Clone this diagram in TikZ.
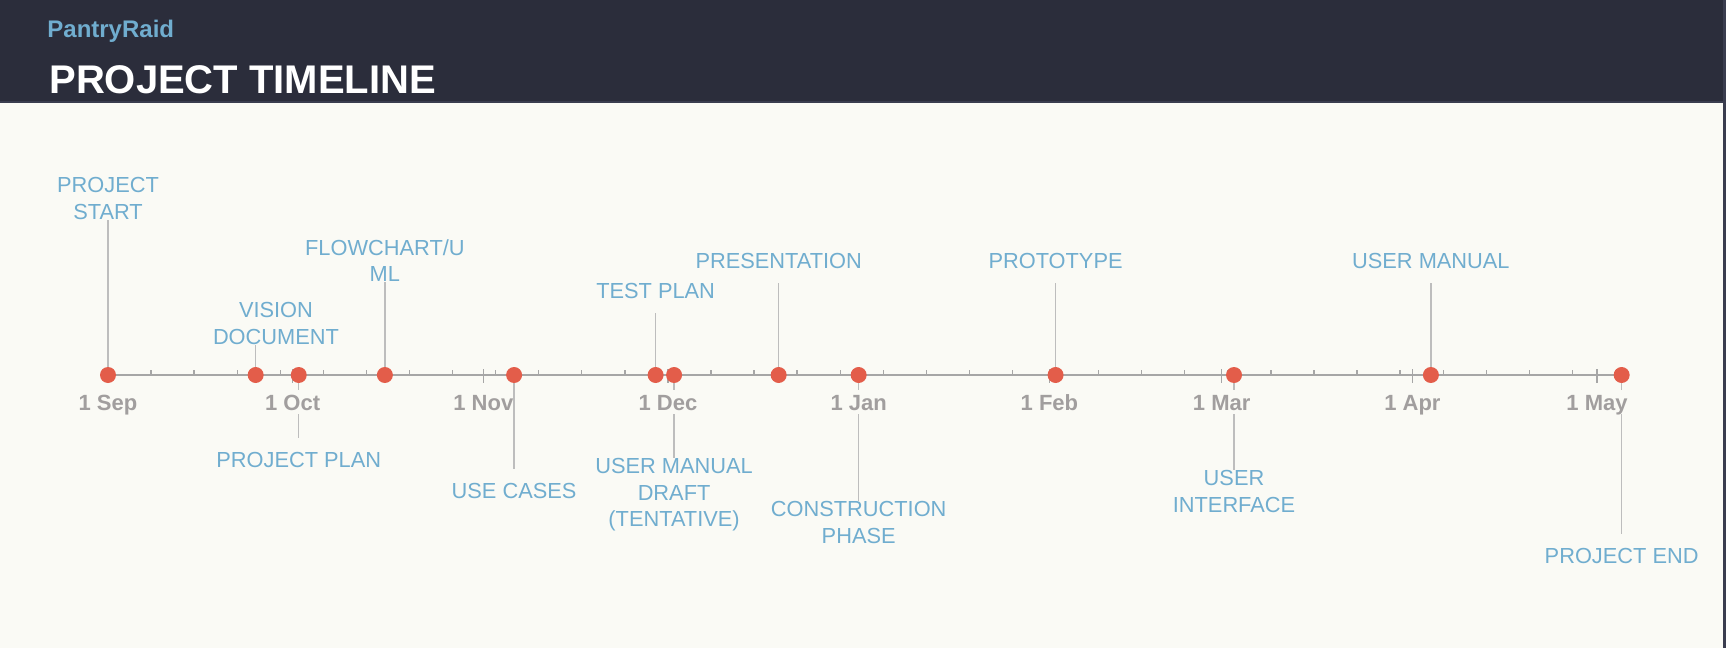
\documentclass[tikz,border=0pt]{standalone}
\usepackage{fontspec}
\setmainfont{Liberation Sans}
\usetikzlibrary{positioning}
\definecolor{headerbg}{HTML}{2B2D3B}
\definecolor{headerrule}{HTML}{3A3D4F}
\definecolor{pagebg}{HTML}{FAFAF5}
\definecolor{accent}{HTML}{70ADCF}
\definecolor{dotred}{HTML}{E35D4A}
\definecolor{axisgray}{HTML}{A6A6A6}
\definecolor{stemgray}{HTML}{BDBDBD}
\definecolor{dategray}{HTML}{A19E9E}

\begin{document}
\begin{tikzpicture}[
  x=0.5pt,
  y=-0.5pt,
  brand/.style={
    anchor=base west,
    inner sep=0pt,
    text=accent,
    font=\fontsize{12pt}{14pt}\selectfont\bfseries
  },
  heading/.style={
    anchor=base west,
    inner sep=0pt,
    text=white,
    font=\fontsize{20pt}{24pt}\selectfont\bfseries
  },
  milestone/.style={
    circle,
    fill=dotred,
    inner sep=0pt,
    minimum size=8pt
  },
  tag/.style={
    align=center,
    inner sep=0pt,
    text=accent,
    font=\fontsize{10.9pt}{13.3pt}\selectfont
  },
  tag1/.style={tag, inner ysep=7pt},
  date/.style={
    anchor=base,
    fill=pagebg,
    inner xsep=0pt,
    inner ysep=2pt,
    text height=8pt,
    text depth=0pt,
    text=dategray,
    font=\fontsize{11pt}{13pt}\selectfont\bfseries
  },
  axis/.style={draw=axisgray, line width=1pt},
  tick/.style={draw=axisgray, line width=0.7pt},
  stem/.style={draw=stemgray, line width=0.75pt}
]

% Page and header band
\useasboundingbox (0,0) rectangle (1726,648);
\fill[pagebg] (0,0) rectangle (1726,648);
\fill[headerbg] (0,0) rectangle (1726,101);
\fill[headerrule] (0,101) rectangle (1726,103);
\fill[headerrule] (1723,0) rectangle (1726,648);
\node[brand] (brand) at (47,38) {PantryRaid};
\node[heading] (title) at (49,93) {PROJECT TIMELINE};

% Time axis, one x unit per day from 1 Sep
\begin{scope}[shift={(108,375)}, x=3.0765pt]
\draw[axis] (0,0) -- (246,0);
\foreach \d in {7,14,...,245} \draw[tick] (\d,0) -- (\d,-5);
\foreach \d in {0,30,61,91,122,153,181,212,242} \draw[tick] (\d,-6) -- (\d,8);

% Milestones
\node[milestone] (start) at (0,0) {};
\node[milestone] (vision) at (24,0) {};
\node[milestone] (plan) at (31,0) {};
\node[milestone] (flow) at (45,0) {};
\node[milestone] (usecases) at (66,0) {};
\node[milestone] (testplan) at (89,0) {};
\node[milestone] (draft) at (92,0) {};
\node[milestone] (present) at (109,0) {};
\node[milestone] (construct) at (122,0) {};
\node[milestone] (proto) at (154,0) {};
\node[milestone] (ui) at (183,0) {};
\node[milestone] (manual) at (215,0) {};
\node[milestone] (finish) at (246,0) {};

% Labels above the axis
\node[tag, anchor=south] (startlabel) at (0,-155) {PROJECT\\START};
\node[tag, anchor=south] (visionlabel) at (27.3,-30) {VISION\\DOCUMENT};
\node[tag, anchor=south] (flowlabel) at (45,-93) {FLOWCHART/U\\ML};
\node[tag1, anchor=south] (testlabel) at (89,-62) {TEST PLAN};
\node[tag1, anchor=south] (presentlabel) at (109,-92) {PRESENTATION};
\node[tag1, anchor=south] (protolabel) at (154,-92) {PROTOTYPE};
\node[tag1, anchor=south] (manuallabel) at (215,-92) {USER MANUAL};

% Labels below the axis
\node[tag1, anchor=north] (planlabel) at (31,63) {PROJECT PLAN};
\node[tag1, anchor=north] (usecaselabel) at (66,94) {USE CASES};
\node[tag, anchor=north] (draftlabel) at (92,83) {USER MANUAL\\DRAFT\\(TENTATIVE)};
\node[tag, anchor=north] (constructlabel) at (122,126) {CONSTRUCTION\\PHASE};
\node[tag, anchor=north] (uilabel) at (183,95) {USER\\INTERFACE};
\node[tag1, anchor=north] (finishlabel) at (246,159) {PROJECT END};

% Stems
\draw[stem] (start.north) -- (startlabel.south);
\draw[stem] (vision.north) -- (vision.north |- visionlabel.south);
\draw[stem] (flow.north) -- (flowlabel.south);
\draw[stem] (testplan.north) -- (testlabel.south);
\draw[stem] (present.north) -- (presentlabel.south);
\draw[stem] (proto.north) -- (protolabel.south);
\draw[stem] (manual.north) -- (manuallabel.south);
\draw[stem] (plan.south) -- (planlabel.north);
\draw[stem] (usecases.south) -- (usecaselabel.north);
\draw[stem] (draft.south) -- (draftlabel.north);
\draw[stem] (construct.south) -- (constructlabel.north);
\draw[stem] (ui.south) -- (uilabel.north);
\draw[stem] (finish.south) -- (finishlabel.north);

% Month dates
\foreach \d/\m in {0/Sep,30/Oct,61/Nov,91/Dec,122/Jan,153/Feb,181/Mar,212/Apr,242/May}
  \node[date] (m\m) at (\d,35) {1 \m};
\end{scope}

\end{tikzpicture}
\end{document}
